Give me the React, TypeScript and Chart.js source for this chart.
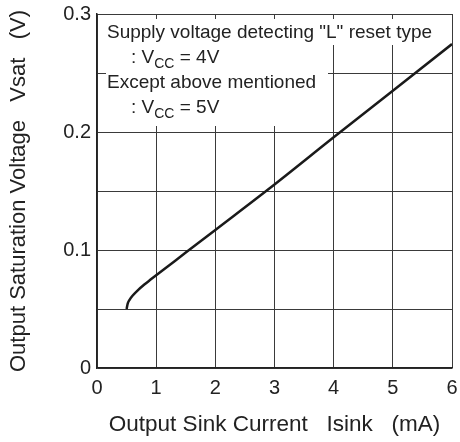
import React, { useEffect, useRef } from 'react';
import { Chart, registerables } from 'chart.js';

Chart.register(...registerables);

// Output sink current (mA)
const sinkCurrent = [0.5, 0.52, 0.55, 0.6, 0.68, 0.8, 0.9, 1.0, 1.5, 2, 3, 4, 5, 6];
// Output saturation voltage (V)
const satVoltage = [0.05, 0.0547, 0.0578, 0.0612, 0.0654, 0.0707, 0.0747, 0.0786, 0.0978, 0.117, 0.1555, 0.1955, 0.235, 0.2745];

const xTickLabels = ['0', '1', '2', '3', '4', '5', '6'];
const yTickLabels = ['0', '', '0.1', '', '0.2', '', '0.3'];

const xTitle = 'Output Sink Current   Isink   (mA)';
const yTitle = 'Output Saturation Voltage   Vsat   (V)';

// note lines: segments [text, isSubscript]
const noteLine1: [string, boolean][] = [['Supply voltage detecting "L" reset type', false]];
const noteLine2: [string, boolean][] = [[': V', false], ['CC', true], [' = 4V', false]];
const noteLine3: [string, boolean][] = [['Except above mentioned', false]];
const noteLine4: [string, boolean][] = [[': V', false], ['CC', true], [' = 5V', false]];
const noteLines = [noteLine1, noteLine2, noteLine3, noteLine4];
const noteIndent = [false, true, false, true];

const FONT = '"Liberation Sans", Arial, Helvetica, sans-serif';
const TEXT_COLOR = '#222';
const GRID_COLOR = '#3a3a3a';

const notePlugin = {
  id: 'notes',
  beforeDatasetsDraw(chart: any) {
    const { ctx, chartArea } = chart;
    const L = chartArea.left;
    const T = chartArea.top;
    ctx.save();
    ctx.fillStyle = '#ffffff';
    ctx.fillRect(L + 9, T + 5, 222, 107);
    ctx.fillRect(L + 231, T + 5, 109, 26);
    ctx.fillStyle = TEXT_COLOR;
    ctx.textBaseline = 'alphabetic';
    ctx.textAlign = 'left';
    noteLines.forEach((segs, i) => {
      let x = L + (noteIndent[i] ? 34 : 10);
      const y = T + 23.5 + i * 25;
      segs.forEach(([t, sub]) => {
        ctx.font = sub ? `14px ${FONT}` : `19px ${FONT}`;
        ctx.fillText(t, x, sub ? y + 5.5 : y);
        x += ctx.measureText(t).width;
      });
    });
    ctx.restore();
  },
};

export default function App() {
  const ref = useRef<HTMLCanvasElement | null>(null);

  useEffect(() => {
    if (!ref.current) return;
    const chart = new Chart(ref.current, {
      type: 'line',
      data: {
        datasets: [
          {
            data: sinkCurrent.map((x, i) => ({ x, y: satVoltage[i] })),
            borderColor: '#1a1a1a',
            borderWidth: 2.5,
            pointRadius: 0,
            fill: false,
            cubicInterpolationMode: 'monotone',
          },
        ],
      },
      options: {
        animation: false,
        responsive: false,
        devicePixelRatio: 1,
        layout: { padding: { top: 14, right: 8, left: 0, bottom: 0 } },
        plugins: { legend: { display: false }, tooltip: { enabled: false } },
        scales: {
          x: {
            type: 'linear',
            min: 0,
            max: 6,
            ticks: {
              stepSize: 1,
              padding: 8,
              color: TEXT_COLOR,
              font: { family: FONT, size: 20, lineHeight: 1.2 },
              maxRotation: 0,
              autoSkip: false,
              callback: (_v: any, i: number) => xTickLabels[i] ?? '',
            },
            grid: { color: GRID_COLOR, lineWidth: 1, drawTicks: false },
            border: { color: '#222', width: 1.5 },
            title: {
              display: true,
              text: xTitle,
              color: TEXT_COLOR,
              font: { family: FONT, size: 22.5, lineHeight: 1.2 },
              padding: { top: 0, bottom: 4 },
            },
            afterFit: (s: any) => {
              s.height = 74;
              s.paddingLeft = 0;
              s.paddingRight = 0;
            },
          },
          y: {
            type: 'linear',
            min: 0,
            max: 0.3,
            ticks: {
              stepSize: 0.05,
              padding: 6,
              color: TEXT_COLOR,
              font: { family: FONT, size: 20, lineHeight: 1.2 },
              autoSkip: false,
              callback: (_v: any, i: number) => yTickLabels[i] ?? '',
            },
            grid: { color: GRID_COLOR, lineWidth: 1, drawTicks: false },
            border: { color: '#222', width: 1.5 },
            title: {
              display: true,
              text: yTitle,
              color: TEXT_COLOR,
              font: { family: FONT, size: 22, lineHeight: 1.2 },
              padding: { top: 6, bottom: 0 },
            },
            afterFit: (s: any) => {
              s.width = 97;
              s.paddingTop = 0;
              s.paddingBottom = 0;
            },
          },
        },
      },
      plugins: [notePlugin],
    } as any);
    return () => chart.destroy();
  }, []);

  return (
    <div style={{ position: 'absolute', left: 0, top: 0, width: 460, height: 442, background: '#fff' }}>
      <canvas ref={ref} width={460} height={442} />
    </div>
  );
}
